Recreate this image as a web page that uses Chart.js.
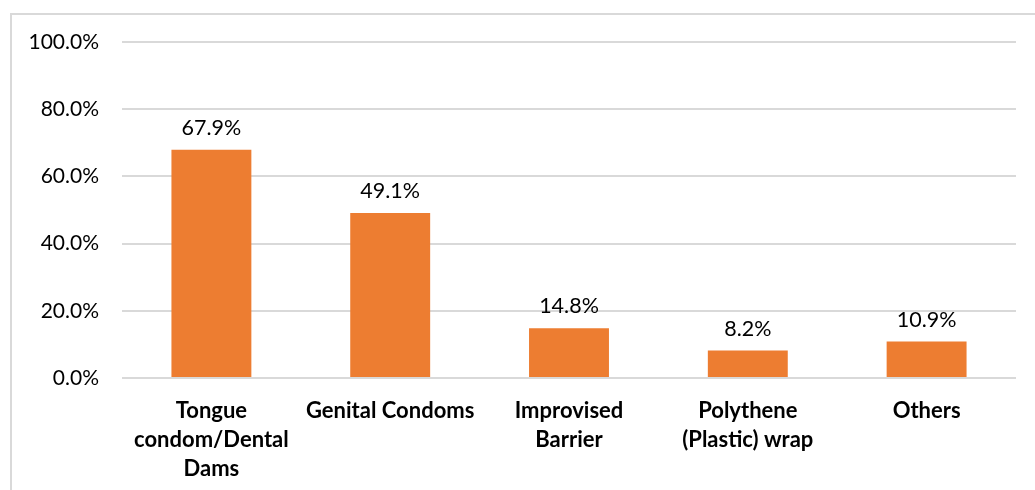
<!DOCTYPE html>
<html>
<head>
<meta charset="utf-8">
<script src="https://cdn.jsdelivr.net/npm/chart.js@4"></script>
<style>
  html, body { margin: 0; padding: 0; background: #fff; overflow: hidden; }
  #frame { position: absolute; left: 10px; top: 13px; width: 1040px; height: 500px; border: 2px solid #d9d9d9; box-sizing: border-box; }
  #wrap { position: absolute; left: 0; top: 0; width: 1035px; height: 490px; }
</style>
</head>
<body>
<div id="frame"></div>
<div id="wrap"><canvas id="chart"></canvas></div>
<script>
// data
const categories = [
  ['Tongue', 'condom/Dental', 'Dams'],
  ['Genital Condoms'],
  ['Improvised', 'Barrier'],
  ['Polythene', '(Plastic) wrap'],
  ['Others']
];
const percentValues = [67.9, 49.1, 14.8, 8.2, 10.9];
const yTicks = [0, 20, 40, 60, 80, 100];

const FONT = 'Lato, "Open Sans", sans-serif';

// value labels above each bar
const barLabels = {
  id: 'barLabels',
  afterDatasetsDraw(chart) {
    const ctx = chart.ctx;
    const meta = chart.getDatasetMeta(0);
    ctx.save();
    ctx.font = '21.5px ' + FONT;
    ctx.fillStyle = '#000';
    ctx.textAlign = 'center';
    ctx.textBaseline = 'bottom';
    meta.data.forEach((bar, i) => {
      ctx.fillText(percentValues[i].toFixed(1) + '%', bar.x, bar.y - 11);
    });
    ctx.restore();
  }
};

new Chart(document.getElementById('chart').getContext('2d'), {
  type: 'bar',
  data: {
    labels: categories,
    datasets: [{
      data: percentValues,
      backgroundColor: '#ED7D31',
      borderWidth: 0,
      barPercentage: 0.447,
      categoryPercentage: 1
    }]
  },
  options: {
    responsive: true,
    maintainAspectRatio: false,
    animation: false,
    layout: { padding: { top: 42, right: 19, left: 0, bottom: 0 } },
    plugins: { legend: { display: false }, tooltip: { enabled: false } },
    scales: {
      x: {
        grid: { display: false },
        border: { display: false },
        ticks: {
          color: '#000',
          font: { family: FONT, size: 22, weight: 'bold', lineHeight: 1.32 },
          padding: 10,
          maxRotation: 0,
          autoSkip: false
        },
        afterFit(scale) { scale.height = 112; }
      },
      y: {
        min: 0,
        max: 100,
        afterBuildTicks(scale) { scale.ticks = yTicks.map(v => ({ value: v })); },
        grid: { color: '#d9d9d9', lineWidth: 2, drawTicks: false },
        border: { display: false },
        ticks: {
          color: '#000',
          font: { family: FONT, size: 21 },
          padding: 23,
          callback: v => v.toFixed(1) + '%'
        },
        afterFit(scale) { scale.width = 122; }
      }
    }
  },
  plugins: [barLabels]
});
</script>
</body>
</html>
